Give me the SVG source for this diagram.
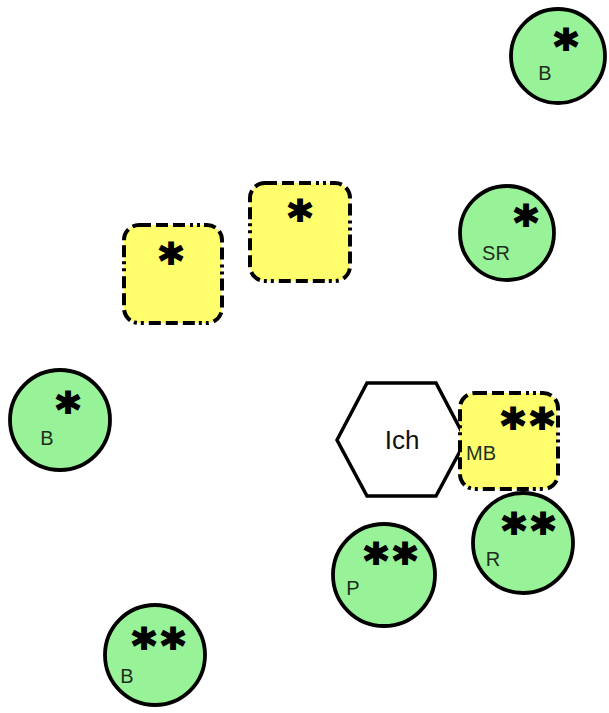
<svg xmlns="http://www.w3.org/2000/svg" width="609" height="713" viewBox="0 0 609 713">
<style>
.c{fill:#98f398;stroke:#000;stroke-width:3.8}
.y{fill:#ffff6e;stroke:#000;stroke-width:4;stroke-dasharray:12 5 12 5 12 5 3 4 3 4}
.h{fill:#fff;stroke:#000;stroke-width:3.5}
.s{font-family:"DejaVu Sans",sans-serif;font-weight:bold;font-size:46px;fill:#000;stroke:#000;stroke-width:2;text-anchor:middle}
.d{letter-spacing:5px}
.l{font-family:"Liberation Sans",Arial,sans-serif;font-size:20px;fill:#1e2e1e;text-anchor:middle}
.t{font-family:"Liberation Sans",Arial,sans-serif;font-size:26px;fill:#111;text-anchor:middle}
</style>
<rect width="609" height="713" fill="#fff"/>
<g id="connectors"></g>
<g id="n_b1"><circle class="c" cx="558" cy="56" r="47"/><text class="s" x="566" y="63">*</text><text class="l" x="545" y="80">B</text></g>
<g id="n_sr"><circle class="c" cx="507" cy="233" r="47"/><text class="s" x="526" y="239">*</text><text class="l" x="496" y="260">SR</text></g>
<g id="n_y1"><rect class="y" x="124" y="225" width="98" height="98" rx="15"/><text class="s" x="171" y="277">*</text></g>
<g id="n_y2"><rect class="y" x="250" y="183" width="100" height="98" rx="15"/><text class="s" x="300" y="234">*</text></g>
<g id="n_b2"><circle class="c" cx="60" cy="420" r="50"/><text class="s" x="68" y="426">*</text><text class="l" x="47" y="445">B</text></g>
<g id="n_ich"><polygon class="h" points="337,440 367,383 436,383 466,440 436,496 367,496"/><text class="t" x="402" y="449">Ich</text></g>
<g id="n_mb"><rect class="y" x="460" y="393" width="98" height="96" rx="15"/><text class="s d" x="530" y="442">**</text><text class="l" x="481" y="460">MB</text></g>
<g id="n_r"><circle class="c" cx="523" cy="543" r="50"/><text class="s d" x="531" y="547">**</text><text class="l" x="493" y="566">R</text></g>
<g id="n_p"><circle class="c" cx="384" cy="575" r="51"/><text class="s d" x="393" y="577">**</text><text class="l" x="353" y="595">P</text></g>
<g id="n_b3"><circle class="c" cx="155" cy="655" r="50"/><text class="s d" x="161" y="662">**</text><text class="l" x="127" y="683">B</text></g>
</svg>
